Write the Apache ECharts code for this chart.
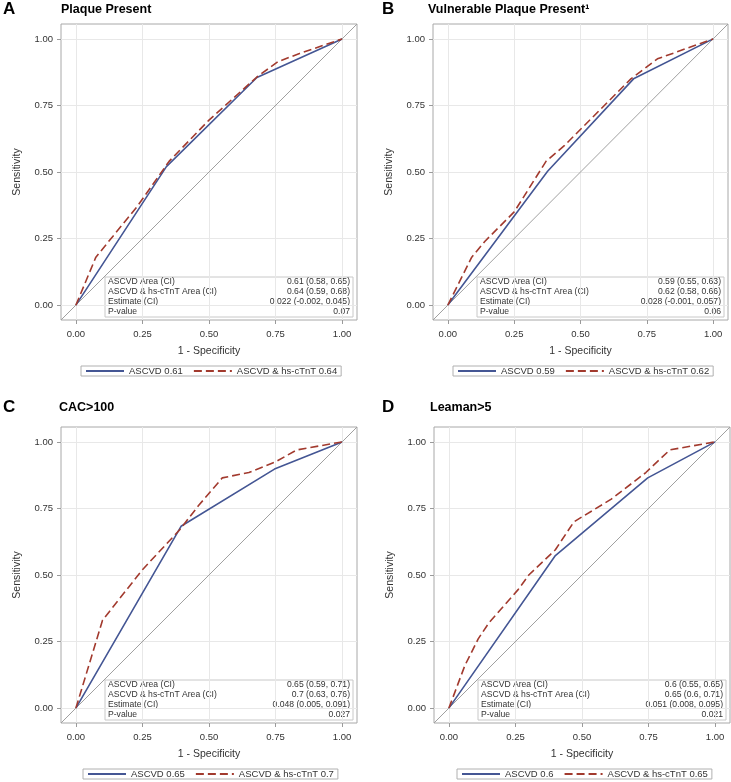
<!DOCTYPE html>
<html>
<head>
<meta charset="utf-8">
<script src="https://cdn.jsdelivr.net/npm/echarts@6/dist/echarts.min.js"></script>
<style>
  html, body { margin: 0; padding: 0; background: #fff; }
  #chart { width: 731px; height: 782px; }
</style>
</head>
<body>
<div id="chart"></div>
<script>
// ---- data ----
const tickValues = [0, 0.25, 0.5, 0.75, 1];
const axisMin = -0.056;
const axisMax = 1.056;
const diagonal = [[axisMin, axisMin], [axisMax, axisMax]];

const panelLetters = ['A', 'B', 'C', 'D'];
const panelTitles = ['Plaque Present', 'Vulnerable Plaque Present\u00B9', 'CAC>100', 'Leaman>5'];

// ROC points [1 - specificity, sensitivity]
const ascvdA = [[0, 0], [0.34, 0.52], [0.68, 0.855], [1, 1]];
const comboA = [[0, 0], [0.075, 0.18], [0.23, 0.37], [0.35, 0.54], [0.5, 0.695], [0.68, 0.857], [0.76, 0.915], [0.84, 0.945], [1, 1]];
const ascvdB = [[0, 0], [0.376, 0.503], [0.7, 0.85], [1, 1]];
const comboB = [[0, 0], [0.09, 0.18], [0.14, 0.24], [0.25, 0.35], [0.37, 0.54], [0.44, 0.6], [0.69, 0.85], [0.79, 0.925], [1, 1]];
const ascvdC = [[0, 0], [0.395, 0.683], [0.746, 0.898], [1, 1]];
const comboC = [[0, 0], [0.1, 0.33], [0.25, 0.52], [0.39, 0.67], [0.46, 0.76], [0.55, 0.865], [0.65, 0.885], [0.75, 0.925], [0.83, 0.97], [1, 1]];
const ascvdD = [[0, 0], [0.4, 0.573], [0.747, 0.865], [1, 1]];
const comboD = [[0, 0], [0.06, 0.16], [0.11, 0.26], [0.15, 0.32], [0.26, 0.445], [0.3, 0.5], [0.4, 0.595], [0.47, 0.7], [0.61, 0.785], [0.74, 0.885], [0.83, 0.97], [1, 1]];

const ascvdNames = ['ASCVD 0.61', 'ASCVD 0.59', 'ASCVD 0.65', 'ASCVD 0.6'];
const comboNames = ['ASCVD & hs-cTnT 0.64', 'ASCVD & hs-cTnT 0.62', 'ASCVD & hs-cTnT 0.7', 'ASCVD & hs-cTnT 0.65'];

const statLabels = ['ASCVD Area (CI)', 'ASCVD & hs-cTnT Area (CI)', 'Estimate (CI)', 'P-value'];
const statsA = ['0.61 (0.58, 0.65)', '0.64 (0.59, 0.68)', '0.022 (-0.002, 0.045)', '0.07'];
const statsB = ['0.59 (0.55, 0.63)', '0.62 (0.58, 0.66)', '0.028 (-0.001, 0.057)', '0.06'];
const statsC = ['0.65 (0.59, 0.71)', '0.7 (0.63, 0.76)', '0.048 (0.005, 0.091)', '0.027'];
const statsD = ['0.6 (0.55, 0.65)', '0.65 (0.6, 0.71)', '0.051 (0.008, 0.095)', '0.021'];

// ---- layout ----
const FONT = 'Liberation Sans, Arial, sans-serif';
const BLUE = '#445694';
const RED = '#A23A2E';
const grids = [
  { left: 61, top: 24, width: 296, height: 296 },
  { left: 433, top: 24, width: 295, height: 296 },
  { left: 61, top: 427, width: 296, height: 296 },
  { left: 434, top: 427, width: 296, height: 296 }
];
const titleRowY = [10, 10, 408, 408];
const letterLeft = [3, 382, 3, 382];
const titleLeft = [61, 428, 59, 430];
const legendLeft = [81, 453, 83, 457];

const ascvdData = [ascvdA, ascvdB, ascvdC, ascvdD];
const comboData = [comboA, comboB, comboC, comboD];
const statsData = [statsA, statsB, statsC, statsD];

const chart = echarts.init(document.getElementById('chart'));

const titles = [];
const xAxes = [];
const yAxes = [];
const series = [];
const legends = [];
const graphics = [];

grids.forEach((g, i) => {
  titles.push({
    text: panelLetters[i], left: letterLeft[i], top: titleRowY[i] - 9, padding: 0,
    textStyle: { fontFamily: FONT, fontSize: 17, fontWeight: 'bold', color: '#000' }
  });
  titles.push({
    text: panelTitles[i], left: titleLeft[i], top: titleRowY[i] - 7, padding: 0,
    textStyle: { fontFamily: FONT, fontSize: 12.5, fontWeight: 'bold', color: '#000' }
  });

  const axisCommon = {
    type: 'value', gridIndex: i, min: axisMin, max: axisMax,
    nameLocation: 'middle',
    nameTextStyle: { fontFamily: FONT, fontSize: 10.5, color: '#333' },
    axisLine: { show: false, onZero: false },
    axisTick: { show: true, inside: false, length: 4, lineStyle: { color: '#9a9a9a' }, customValues: tickValues },
    axisLabel: {
      fontFamily: FONT, fontSize: 9.5, color: '#333',
      customValues: tickValues, formatter: v => v.toFixed(2)
    },
    splitLine: { show: true, lineStyle: { color: '#e8e8e8', width: 1 } }
  };
  xAxes.push(Object.assign({}, axisCommon, {
    name: '1 - Specificity', nameGap: 26,
    axisLabel: Object.assign({}, axisCommon.axisLabel, { margin: 9 })
  }));
  yAxes.push(Object.assign({}, axisCommon, {
    name: 'Sensitivity', nameGap: 38,
    axisLabel: Object.assign({}, axisCommon.axisLabel, { margin: 8 })
  }));

  series.push({
    type: 'line', xAxisIndex: i, yAxisIndex: i, data: diagonal, symbol: 'none',
    silent: true, lineStyle: { color: '#a0a0a0', width: 1 }, z: 1
  });
  series.push({
    name: ascvdNames[i], type: 'line', xAxisIndex: i, yAxisIndex: i,
    data: ascvdData[i], symbol: 'none', lineStyle: { color: BLUE, width: 1.6 },
    itemStyle: { color: BLUE }, z: 2
  });
  series.push({
    name: comboNames[i], type: 'line', xAxisIndex: i, yAxisIndex: i,
    data: comboData[i], symbol: 'none', lineStyle: { color: RED, width: 1.6, type: [8, 4] },
    itemStyle: { color: RED }, z: 3
  });

  legends.push({
    data: [ascvdNames[i], comboNames[i]],
    left: legendLeft[i], top: g.top + g.height + 46,
    orient: 'horizontal', itemWidth: 38, itemHeight: 11, itemGap: 10,
    padding: [0, 4], borderColor: '#b0b0b0', borderWidth: 1,
    selectedMode: false,
    itemStyle: { opacity: 0 },
    textStyle: { fontFamily: FONT, fontSize: 9.5, color: '#333', padding: [1, 0, 0, 0] }
  });

  // inset statistics table
  const bx = g.left + 44;
  const by = g.top + g.height - 43;
  const bw = g.width - 48;
  const children = [{
    type: 'rect', shape: { x: bx, y: by, width: bw, height: 40 },
    style: { fill: '#fff', stroke: '#c8c8c8', lineWidth: 1 }
  }];
  statLabels.forEach((label, r) => {
    const cy = by + 5 + r * 10;
    children.push({
      type: 'text', x: bx + 3, y: cy,
      style: { text: label, fontFamily: FONT, fontSize: 8.6, fill: '#333', align: 'left', verticalAlign: 'middle' }
    });
    children.push({
      type: 'text', x: bx + bw - 3, y: cy,
      style: { text: statsData[i][r], fontFamily: FONT, fontSize: 8.6, fill: '#333', align: 'right', verticalAlign: 'middle' }
    });
  });
  graphics.push({ type: 'group', z: 10, children: children });
});

chart.setOption({
  backgroundColor: '#fff',
  animation: false,
  title: titles,
  grid: grids.map(g => Object.assign({ show: true, borderColor: '#a8a8a8', borderWidth: 1, backgroundColor: '#fff', containLabel: false }, g)),
  xAxis: xAxes,
  yAxis: yAxes,
  legend: legends,
  series: series,
  graphic: graphics
});
</script>
</body>
</html>
